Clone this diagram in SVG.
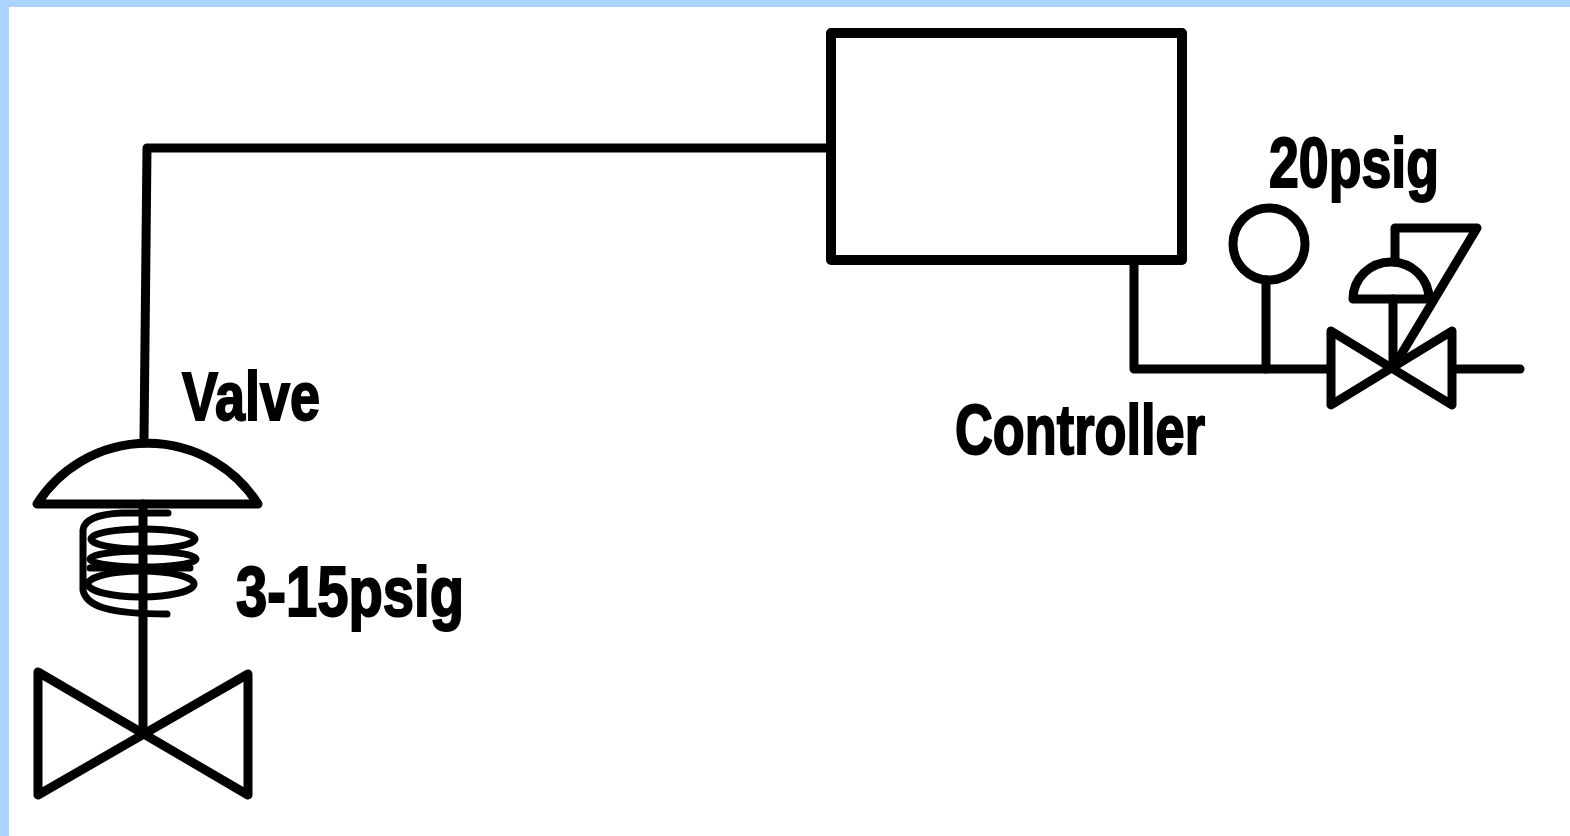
<svg xmlns="http://www.w3.org/2000/svg" width="1570" height="836" viewBox="0 0 1570 836">
<style>
.l{fill:none;stroke:#000;stroke-width:9;stroke-linejoin:round;stroke-linecap:round}
.s{stroke-width:7}
.t{font-family:"Liberation Sans",Arial,sans-serif;font-weight:700;fill:#000;stroke:#000;stroke-width:2}
</style>
<rect width="1570" height="836" fill="#fff"/>
<path d="M0 0H1570V7H9V836H0Z" fill="#aad4ff"/>
<g id="connectors">
<path class="l" d="M144 440L147 148H828"/>
<path class="l" d="M1134 262V369H1330"/>
<path class="l" d="M1266 280V369"/>
<path class="l" d="M1453 369H1520"/>
</g>
<g id="controller"><rect class="l" style="stroke-width:10" x="831" y="33" width="351" height="227"/></g>
<g id="valve-left">
<path class="l" d="M37 504H258A131 131 0 0 0 37 504Z"/>
<path class="l" d="M143 504V733"/>
<path class="l" d="M38 672L248 795V674L38 795Z"/>
<path class="l s" d="M168 513H122C98 514 84 520 83 530V590C86 606 108 614 167 614"/>
<ellipse class="l s" cx="143" cy="539" rx="52" ry="10"/>
<ellipse class="l s" cx="143" cy="559" rx="53" ry="8"/>
<ellipse class="l s" cx="141" cy="584" rx="53" ry="13"/>
<path class="l s" d="M90 568H190"/>
</g>
<g id="gauge"><circle class="l" cx="1269" cy="244" r="36"/></g>
<g id="valve-right">
<path class="l" d="M1353 299H1429A38 37 0 0 0 1353 299Z"/>
<path class="l" d="M1393 299V368"/>
<path class="l" d="M1331 331L1452 405V331L1331 405Z"/>
<path class="l" d="M1395 262V228H1477L1393 368"/>
</g>
<g id="labels">
<text class="t" x="182" y="420" font-size="68" textLength="138" lengthAdjust="spacingAndGlyphs">Valve</text>
<text class="t" x="236" y="616" font-size="70" textLength="228" lengthAdjust="spacingAndGlyphs">3-15psig</text>
<text class="t" x="955" y="454" font-size="70" textLength="250" lengthAdjust="spacingAndGlyphs">Controller</text>
<text class="t" x="1269" y="187" font-size="70" textLength="170" lengthAdjust="spacingAndGlyphs">20psig</text>
</g>
</svg>
